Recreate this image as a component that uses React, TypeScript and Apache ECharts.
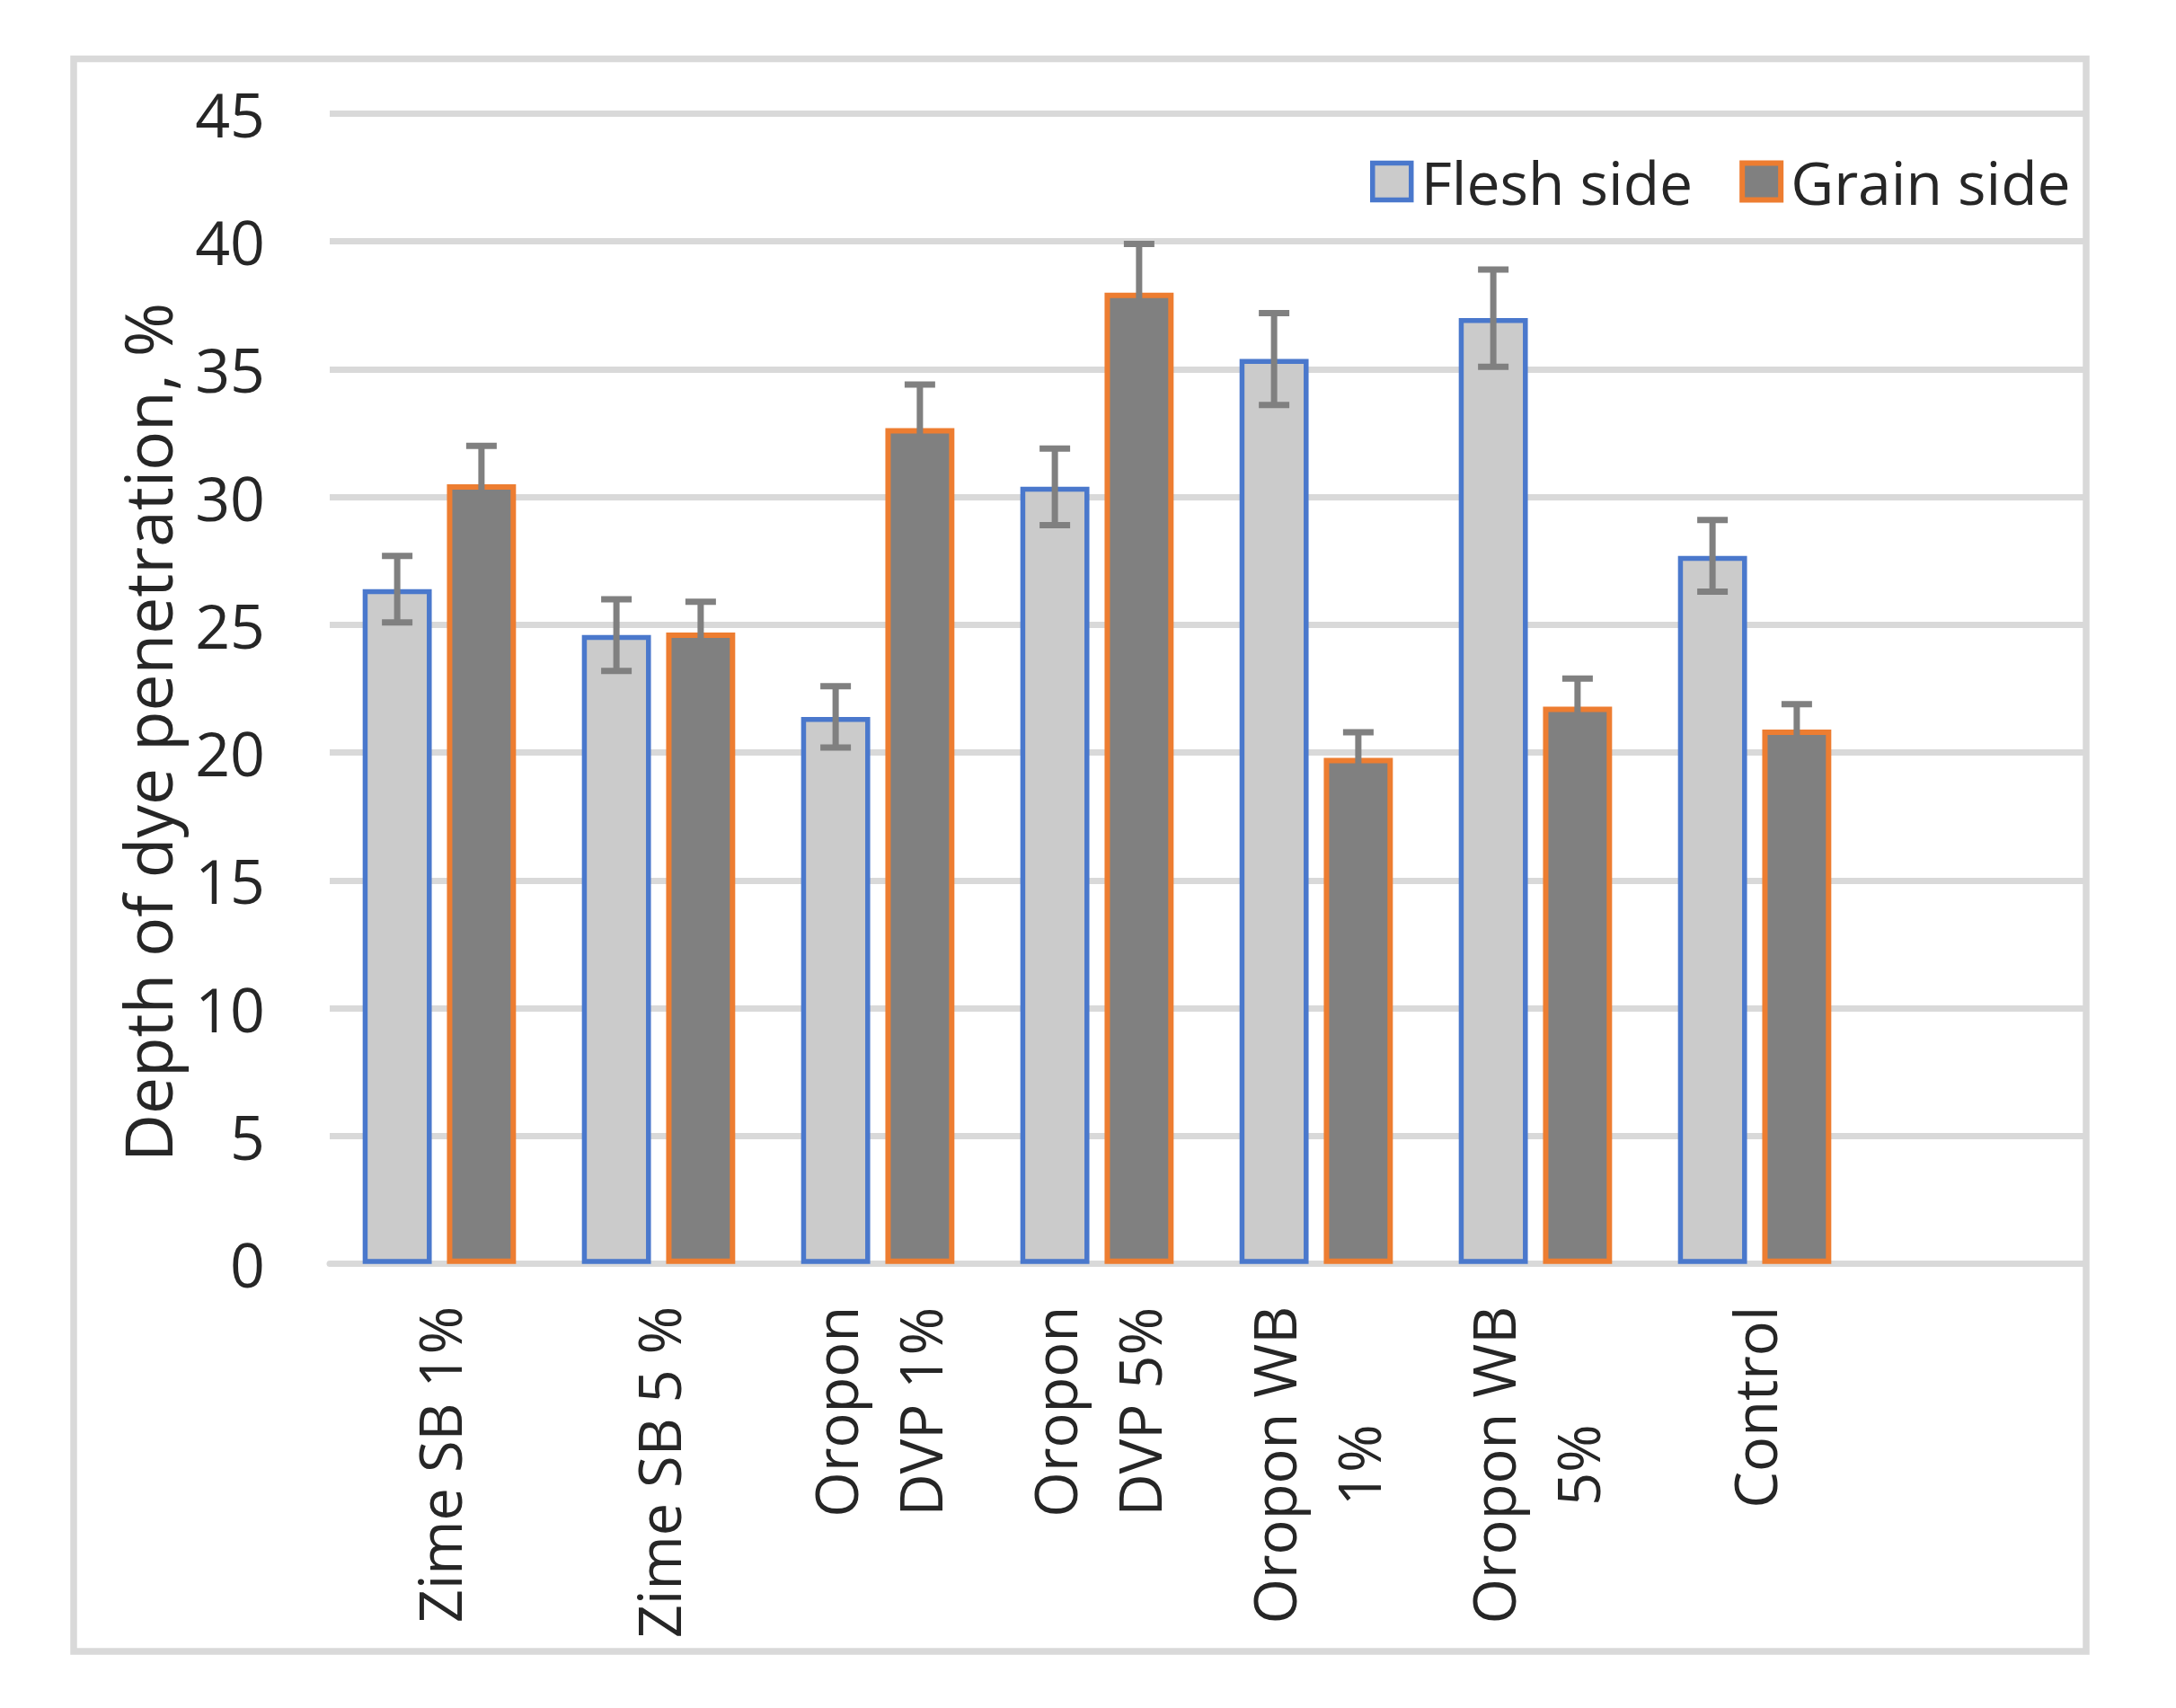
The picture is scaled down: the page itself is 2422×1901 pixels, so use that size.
import React, { useEffect, useRef } from "react";
import * as echarts from "echarts";

const categories = [
  "Zime SB 1%",
  "Zime SB 5 %",
  "Oropon\nDVP 1%",
  "Oropon\nDVP 5%",
  "Oropon WB\n1%",
  "Oropon WB\n5%",
  "Control",
  "",
];
const seriesNames = ["Flesh side", "Grain side"];
const fleshValues = [26.4, 24.6, 21.4, 30.4, 35.4, 37.0, 27.7];
const fleshErrors = [1.3, 1.4, 1.2, 1.5, 1.8, 1.9, 1.4];
const grainValues = [30.5, 24.7, 32.7, 38.0, 19.8, 21.8, 20.9];
const grainErrors = [1.5, 1.2, 1.7, 1.9, 1.0, 1.1, 1.0];
const yTitle = "Depth of dye penetration, %";

const FONT = "'Open Sans', 'Noto Sans', sans-serif";
const TEXT = "#262626";
const GRID = "#d9d9d9";
const BAR_W = 0.315;
const BAR_GAP = 0.22;

function errorSeries(values: number[], errors: number[], sign: number) {
  return {
    type: "custom",
    z: 10,
    silent: true,
    data: values.map((v, i) => [i, v, errors[i]]),
    encode: { x: 0, y: 1 },
    renderItem: (params: any, api: any) => {
      const idx = api.value(0);
      const val = api.value(1);
      const err = api.value(2);
      const band = api.size([1, 0])[0];
      const x =
        api.coord([idx, val])[0] + (sign * band * BAR_W * (1 + BAR_GAP)) / 2;
      const yTop = api.coord([idx, val + err])[1];
      const yBot = api.coord([idx, val - err])[1];
      const cap = 17;
      const style = { stroke: "#808080", lineWidth: 7 };
      return {
        type: "group",
        children: [
          { type: "line", shape: { x1: x, y1: yTop, x2: x, y2: yBot }, style },
          { type: "line", shape: { x1: x - cap, y1: yTop, x2: x + cap, y2: yTop }, style },
          { type: "line", shape: { x1: x - cap, y1: yBot, x2: x + cap, y2: yBot }, style },
        ],
      };
    },
  };
}

export default function App() {
  const ref = useRef<HTMLDivElement>(null);
  useEffect(() => {
    if (!ref.current) return;
    const chart = echarts.init(ref.current, null, { renderer: "svg" });
    const fleshStyle = { color: "#cbcbcb", borderColor: "#4a78cc", borderWidth: 5.5 };
    const grainStyle = { color: "#808080", borderColor: "#ed7d31", borderWidth: 6 };
    chart.setOption({
      animation: false,
      backgroundColor: "#ffffff",
      textStyle: { fontFamily: FONT },
      grid: { left: 367, right: 103, top: 126.5, bottom: 494.3, containLabel: false },
      legend: {
        left: 1525,
        top: 169,
        padding: 0,
        itemWidth: 43,
        itemHeight: 41,
        itemGap: 52,
        icon: "rect",
        textStyle: {
          fontFamily: FONT,
          fontSize: 66,
          color: TEXT,
          lineHeight: 46,
          padding: [0, 0, 0, 6],
        },
        data: [
          { name: seriesNames[0], itemStyle: fleshStyle },
          { name: seriesNames[1], itemStyle: grainStyle },
        ],
      },
      xAxis: {
        type: "category",
        data: categories,
        axisLine: { show: true, lineStyle: { color: GRID, width: 7 } },
        axisTick: { show: false },
        axisLabel: {
          interval: 0,
          rotate: 90,
          margin: 47,
          color: TEXT,
          fontFamily: FONT,
          fontSize: 65,
          formatter: (v: string) =>
            v
              .split("\n")
              .map((l) => `{c|${l}}`)
              .join("\n"),
          rich: {
            c: {
              align: "center",
              fontFamily: FONT,
              fontSize: 65,
              lineHeight: 94,
              color: TEXT,
            },
          },
        },
      },
      yAxis: {
        type: "value",
        min: 0,
        max: 45,
        interval: 5,
        axisLine: { show: false },
        axisTick: { show: false },
        axisLabel: { margin: 72, color: TEXT, fontFamily: FONT, fontSize: 68 },
        splitLine: { lineStyle: { color: GRID, width: 7 } },
      },
      graphic: [
        {
          type: "rect",
          shape: { x: 82, y: 65.5, width: 2240, height: 1772.5 },
          style: { fill: "none", stroke: GRID, lineWidth: 7.5 },
          silent: true,
        },
        {
          type: "text",
          x: 163,
          y: 815,
          rotation: Math.PI / 2,
          style: {
            text: yTitle,
            fontFamily: FONT,
            fontSize: 73,
            fill: TEXT,
            align: "center",
            verticalAlign: "middle",
          },
        },
      ],
      series: [
        {
          name: seriesNames[0],
          type: "bar",
          data: fleshValues,
          barWidth: `${BAR_W * 100}%`,
          barGap: `${BAR_GAP * 100}%`,
          itemStyle: fleshStyle,
        },
        {
          name: seriesNames[1],
          type: "bar",
          data: grainValues,
          barWidth: `${BAR_W * 100}%`,
          barGap: `${BAR_GAP * 100}%`,
          itemStyle: grainStyle,
        },
        errorSeries(fleshValues, fleshErrors, -1),
        errorSeries(grainValues, grainErrors, 1),
      ],
    });
    return () => chart.dispose();
  }, []);
  return (
    <div
      ref={ref}
      style={{ position: "absolute", left: 0, top: 0, width: 2422, height: 1901 }}
    />
  );
}
